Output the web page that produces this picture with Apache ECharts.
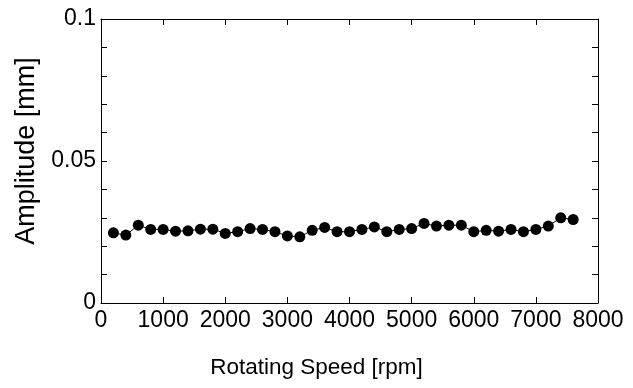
<!DOCTYPE html>
<html>
<head>
<meta charset="utf-8">
<script src="https://cdn.jsdelivr.net/npm/echarts@6/dist/echarts.min.js"></script>
<style>html,body{margin:0;padding:0;background:#fff;}#c{width:633px;height:388px;}</style>
</head>
<body>
<div id="c"></div>
<script>
const speeds = [200,400,600,800,1000,1200,1400,1600,1800,2000,2200,2400,2600,2800,3000,3200,3400,3600,3800,4000,4200,4400,4600,4800,5000,5200,5400,5600,5800,6000,6200,6400,6600,6800,7000,7200,7400,7600];
const amplitudes = [0.0247,0.0239,0.0274,0.0259,0.0259,0.0253,0.0254,0.0260,0.0260,0.0245,0.0251,0.0262,0.0259,0.0251,0.0236,0.0233,0.0256,0.0266,0.0251,0.0251,0.0259,0.0268,0.0251,0.0259,0.0262,0.0280,0.0271,0.0274,0.0274,0.0251,0.0256,0.0253,0.0259,0.0251,0.0259,0.0271,0.0300,0.0294];
const yTickLabels = {0:'0', 5:'0.05', 10:'0.1'};
const xTitle = 'Rotating Speed [rpm]';
const yTitle = 'Amplitude [mm]';

const FONT = 'Liberation Sans, Arial, sans-serif';
const chart = echarts.init(document.getElementById('c'));
const lineStyle = {color:'#000', width:1};
chart.setOption({
  animation:false,
  grid:{left:101, right:35, top:19, bottom:85},
  xAxis:[{
    type:'value', min:0, max:8000, interval:1000,
    axisLine:{show:true, onZero:false, lineStyle},
    axisTick:{show:true, inside:true, length:6, lineStyle},
    axisLabel:{color:'#000', fontSize:23, fontFamily:FONT, margin:6, formatter:v=>String(v)},
    splitLine:{show:false},
    name:xTitle, nameLocation:'middle', nameGap:53,
    nameTextStyle:{color:'#000', fontSize:22.5, fontFamily:FONT, padding:[0,66,0,0]}
  },{
    type:'value', min:0, max:8000, interval:1000, position:'top',
    axisLine:{show:true, onZero:false, lineStyle},
    axisTick:{show:true, inside:true, length:6, lineStyle},
    axisLabel:{show:false}, splitLine:{show:false}
  }],
  yAxis:[{
    type:'value', min:0, max:0.1, interval:0.01,
    axisLine:{show:true, onZero:false, lineStyle},
    axisTick:{show:true, inside:true, length:6, lineStyle},
    axisLabel:{color:'#000', fontSize:23, fontFamily:FONT, margin:5, padding:[6,0,0,0],
      formatter:v=>{const k=Math.round(v*100); return yTickLabels[k]!==undefined?yTickLabels[k]:'';}},
    splitLine:{show:false},
    name:yTitle, nameLocation:'middle', nameGap:59,
    nameTextStyle:{color:'#000', fontSize:27, fontFamily:FONT, padding:[0,0,0,20]}
  },{
    type:'value', min:0, max:0.1, interval:0.01, position:'right',
    axisLine:{show:true, onZero:false, lineStyle},
    axisTick:{show:true, inside:true, length:6, lineStyle},
    axisLabel:{show:false}, splitLine:{show:false}
  }],
  series:[{
    type:'line', xAxisIndex:0, yAxisIndex:0,
    data:speeds.map((s,i)=>[s,amplitudes[i]]),
    symbol:'circle', symbolSize:11,
    itemStyle:{color:'#000'},
    lineStyle:{color:'#000', width:1}
  }]
});
</script>
</body>
</html>
